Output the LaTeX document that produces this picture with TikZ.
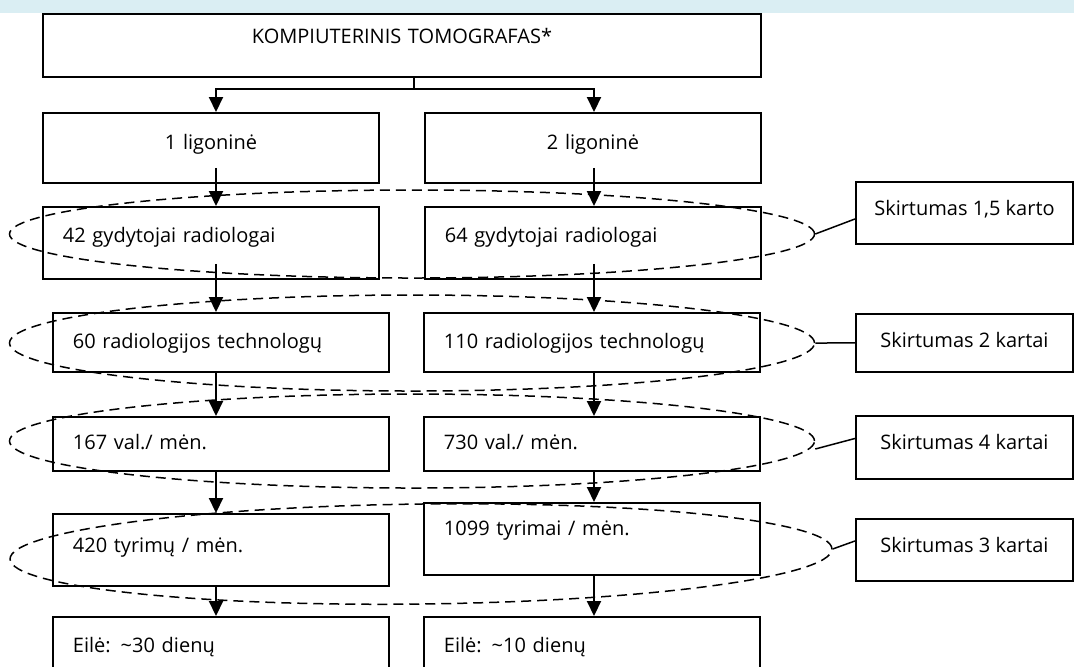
\documentclass[tikz,border=0pt]{standalone}
\usepackage{fontspec}
\setmainfont{Open Sans}
\usepackage{tikz}
\usetikzlibrary{arrows.meta,calc,shapes.geometric}
\usepackage{xcolor}
\definecolor{bandblue}{HTML}{DAEEF3}
\tikzset{
  cell/.style    = {draw, line width=0.95pt, anchor=north west, inner xsep=10pt,
                    inner ysep=0pt, text width=148pt, align=left},
  sidebox/.style = {draw, line width=0.95pt, anchor=north west, inner xsep=0pt,
                    inner ysep=0pt, minimum width=108.5pt, text height=17pt},
  ring/.style    = {draw, ellipse, inner sep=0pt, line width=0.75pt,
                    dash pattern=on 5pt off 3pt},
  sig/.style     = {-{Triangle[length=7.5pt,width=7pt]}, line width=1pt},
  tie/.style     = {line width=0.75pt},
}

\begin{document}
\begin{tikzpicture}[x=0.5pt,y=-0.5pt,font=\fontsize{10pt}{12pt}\selectfont]
\useasboundingbox (0,0) rectangle (1074,666);
\clip (0,0) rectangle (1074,666);
\fill[bandblue] (0,0) rectangle (1074,13);
% ---- top and hospitals ----
\node[cell, text width=339pt, align=center, text height=15pt, text depth=16.5pt] (T) at (42,13) {KOMPIUTERINIS TOMOGRAFAS*};
\node[cell, align=center, text height=18.5pt, text depth=16.5pt] (h1) at (42,112) {1 ligoninė};
\node[cell, align=center, text height=18.5pt, text depth=16.5pt] (h2) at (424,112) {2 ligoninė};
% ---- left column ----
\node[cell, text height=18pt, text depth=18pt] (d1) at (42,206) {42 gydytojai radiologai};
\node[cell, text height=18pt, text depth=11.5pt] (t1) at (52,312) {60 radiologijos technologų};
\node[cell, text height=16.5pt, text depth=10.5pt] (w1) at (52,416) {167 val./ mėn.};
\node[cell, text height=19.5pt, text depth=16.5pt] (x1) at (52,513) {420 tyrimų / mėn.};
\node[cell, text height=18pt, text depth=14pt] (q1) at (52,616) {Eilė: \textasciitilde30 dienų};
% ---- right column ----
\node[cell, text height=18pt, text depth=18pt] (d2) at (424,206) {64 gydytojai radiologai};
\node[cell, text height=18pt, text depth=11.5pt] (t2) at (423,312) {110 radiologijos technologų};
\node[cell, text height=16.5pt, text depth=10.5pt] (w2) at (423,416) {730 val./ mėn.};
\node[cell, text height=16.5pt, text depth=19.5pt] (x2) at (423,502) {1099 tyrimai / mėn.};
\node[cell, text height=18pt, text depth=14pt] (q2) at (423,616) {Eilė: \textasciitilde10 dienų};
% ---- differences ----
\node[sidebox, text depth=14pt] (s1) at (855,181) {Skirtumas 1,5 karto};
\node[sidebox, text depth=12pt] (s2) at (855,313) {Skirtumas 2 kartai};
\node[sidebox, text depth=14.5pt] (s3) at (855,415) {Skirtumas 4 kartai};
\node[sidebox, text depth=14pt] (s4) at (855,518) {Skirtumas 3 kartai};
% ---- arrows ----
\coordinate (colL) at (216,0);
\coordinate (colR) at (594,0);
\coordinate (fork) at (414,89);
\draw[line width=1pt] (T.south -| fork) -- (fork);
\draw[sig] (fork) -| (h1.north -| colL);
\draw[sig] (fork) -| (h2.north -| colR);
\foreach \a/\b/\c/\s in {h1/d1/colL/16, d1/t1/colL/16, t1/w1/colL/0, w1/x1/colL/0, x1/q1/colL/0,
                         h2/d2/colR/16, d2/t2/colR/16, t2/w2/colR/0, w2/x2/colR/0, x2/q2/colR/0}
  \draw[sig] ($(\a.south -| \c)+(0,-\s)$) -- (\b.north -| \c);
% ---- dashed groups ----
\node[ring, minimum width=402.5pt, minimum height=44pt] (e1) at (412,234) {};
\node[ring, minimum width=402.5pt, minimum height=48pt] (e2) at (412,343) {};
\node[ring, minimum width=402.5pt, minimum height=47pt] (e3) at (412,441) {};
\node[ring, minimum width=411pt, minimum height=50pt, rotate=0.7] (e4) at (421,554) {};
\draw[tie] (e1.east) -- ([yshift=-3pt]s1.west);
\draw[tie] (e2.east) -- (s2.west);
\draw[tie] ([yshift=-4pt]e3.east) -- ([yshift=4.5pt]s3.west);
\draw[tie] (e4.east) -- ([yshift=4.5pt]s4.west);
\end{tikzpicture}
\end{document}
